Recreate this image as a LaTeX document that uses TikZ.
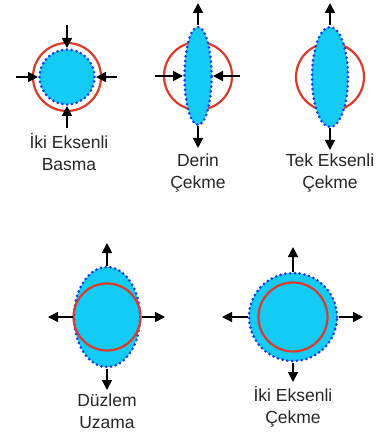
\documentclass[tikz,border=0pt]{standalone}
\usepackage{fontspec}
\setmainfont{Liberation Sans}
\usetikzlibrary{arrows.meta,shapes.geometric}
\definecolor{blobcyan}{HTML}{14CBF6}
\definecolor{dotblue}{HTML}{1A3AE6}
\definecolor{ringred}{HTML}{DC3A2A}
\definecolor{txtgray}{HTML}{262626}

\begin{document}
\begin{tikzpicture}[x=1pt, y=-1pt,
  blob/.style={ellipse, fill=blobcyan, draw=dotblue, line width=3pt, line cap=round, dash pattern=on 0pt off 4.8pt, inner sep=0pt},
  ring/.style={circle, draw=ringred, line width=2.2pt, inner sep=0pt},
  arr/.style={-{Triangle[length=10pt,width=10pt]}, line width=1.5pt, black},
  lbl/.style={align=center, text=txtgray, font=\fontsize{17.5}{22}\selectfont}
]
\useasboundingbox (0,0) rectangle (389,435);

% Iki eksenli basma
\node[ring, minimum size=68pt] (r1) at (67,77) {};
\node[blob, circle, minimum size=55pt] (b1) at (67,77) {};
\coordinate (n1) at (67,25);
\coordinate (s1) at (67,128);
\coordinate (w1) at (16,77);
\coordinate (e1) at (117,77);
\draw[arr] (n1) -- (b1.north);
\draw[arr] (s1) -- (b1.south);
\draw[arr] (w1) -- (b1.west);
\draw[arr] (e1) -- (b1.east);
\node[lbl] (t1) at (69,152) {İki Eksenli\\Basma};

% Derin cekme
\node[ring, minimum size=68pt] (r2) at (198,76) {};
\node[blob, minimum width=27pt, minimum height=98pt] (b2) at (198,76) {};
\coordinate (n2) at (198,3);
\coordinate (s2) at (198,148);
\coordinate (w2) at (155,76);
\coordinate (e2) at (240,76);
\draw[arr] (b2.north) -- (n2);
\draw[arr] (b2.south) -- (s2);
\draw[arr] (w2) -- (b2.west);
\draw[arr] (e2) -- (b2.east);
\node[lbl] (t2) at (198,173) {Derin\\Çekme};

% Tek eksenli cekme
\node[ring, minimum size=68pt] (r3) at (330,77) {};
\node[blob, minimum width=36pt, minimum height=100pt] (b3) at (330,77) {};
\coordinate (n3) at (330,3);
\coordinate (s3) at (330,150);
\draw[arr] (b3.north) -- (n3);
\draw[arr] (b3.south) -- (s3);
\node[lbl] (t3) at (330,173) {Tek Eksenli\\Çekme};

% Duzlem uzama
\node[blob, minimum width=66pt, minimum height=100pt] (b4) at (107,317) {};
\node[ring, minimum size=67pt] (r4) at (107,317) {};
\coordinate (n4) at (107,243);
\coordinate (s4) at (107,390);
\coordinate (w4) at (48,317);
\coordinate (e4) at (165,317);
\draw[arr] (b4.north) -- (n4);
\draw[arr] (b4.south) -- (s4);
\draw[arr] (b4.west) -- (w4);
\draw[arr] (b4.east) -- (e4);
\node[lbl] (t4) at (107,411) {Düzlem\\Uzama};

% Iki eksenli cekme
\node[blob, circle, minimum size=88pt] (b5) at (293,317) {};
\node[ring, minimum size=69pt] (r5) at (293,317) {};
\coordinate (n5) at (293,247);
\coordinate (s5) at (293,382);
\coordinate (w5) at (222,317);
\coordinate (e5) at (363,317);
\draw[arr] (b5.north) -- (n5);
\draw[arr] (b5.south) -- (s5);
\draw[arr] (b5.west) -- (w5);
\draw[arr] (b5.east) -- (e5);
\node[lbl] (t5) at (293,407) {İki Eksenli\\Çekme};
\end{tikzpicture}
\end{document}
